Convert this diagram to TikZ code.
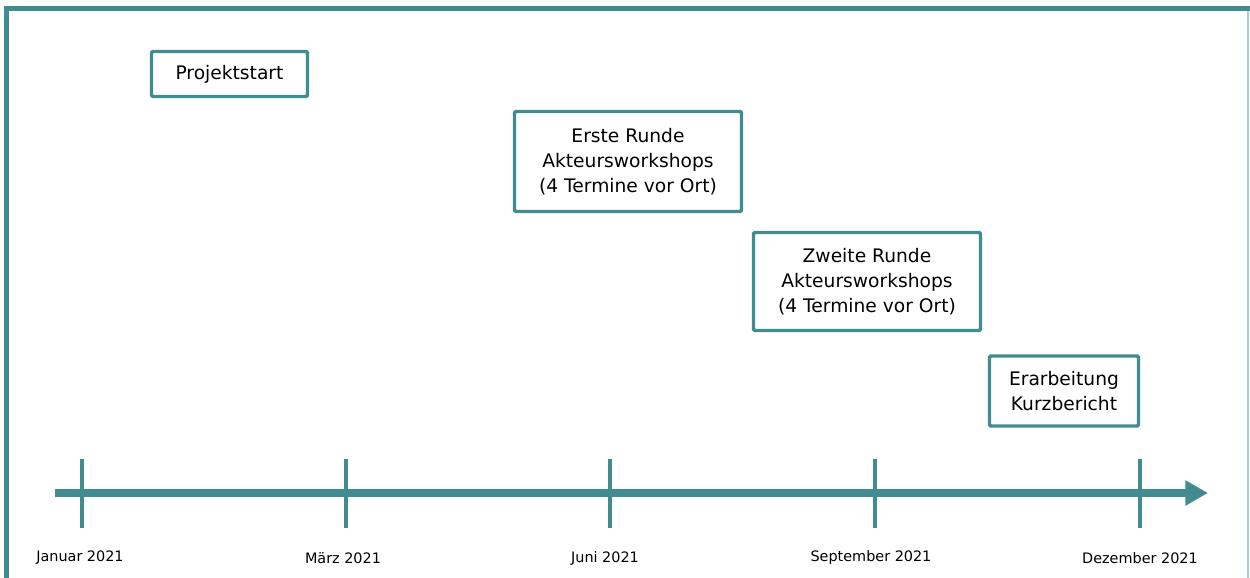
\documentclass[tikz,border=0pt]{standalone}
\usepackage{fontspec}
\setmainfont{DejaVu Sans}
\usetikzlibrary{arrows.meta}
\definecolor{teal}{RGB}{64,140,145}
\definecolor{lightteal}{RGB}{170,205,208}

\begin{document}
\begin{tikzpicture}
    [
    x=0.75pt, y=-0.75pt,
    phase/.style={draw=teal, line width=2.6pt, rounded corners=1pt, align=center,
        inner sep=0pt, font=\fontsize{14}{18.75}\selectfont},
    datum/.style={font=\fontsize{10.8}{12}\selectfont},
    tick/.style={draw=teal, line width=2.4pt}
    ]

    \useasboundingbox (0,0) rectangle (1250,578);

    % frame
    \draw[teal, line width=3.75pt] (6,578) -- (6,8.5) -- (1250,8.5);
    \draw[lightteal, line width=1pt] (1248,11) -- (1248,578);

    % phases
    \node[phase, minimum width=117pt, minimum height=33.75pt] (start) at (229.5,74) {Projektstart};
    \node[phase, minimum width=170.25pt, minimum height=75pt] (runde1) at (628,161.5)
        {Erste Runde\\Akteursworkshops\\(4 Termine vor Ort)};
    \node[phase, minimum width=170.25pt, minimum height=73.5pt] (runde2) at (867,281.5)
        {Zweite Runde\\Akteursworkshops\\(4 Termine vor Ort)};
    \node[phase, minimum width=111.75pt, minimum height=52.5pt] (bericht) at (1064,391)
        {Erarbeitung\\Kurzbericht};

    % time axis
    \coordinate (axstart) at (55,493);
    \coordinate (axend) at (1208,493);
    \draw[teal, line width=6pt, -{Triangle[length=17pt, width=18pt]}] (axstart) -- (axend);

    \foreach \name/\x/\lx/\text in {jan/82/80/Januar 2021, mar/346/343/März 2021,
        jun/610/605/Juni 2021, sep/875/871/September 2021, dez/1140/1140/Dezember 2021}
    {
        \coordinate (\name top) at (\x,459);
        \coordinate (\name bot) at (\x,528);
        \draw[tick] (\name top) -- (\name bot);
        \node[datum] (\name) at (\lx,558) {\text};
    }
\end{tikzpicture}
\end{document}
